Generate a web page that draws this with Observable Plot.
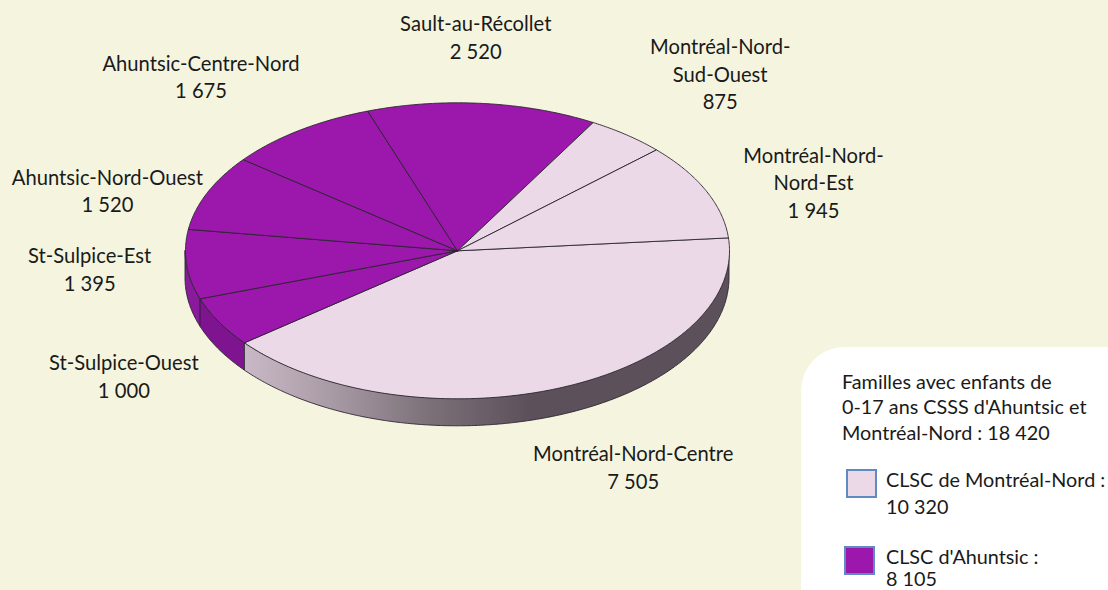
<!DOCTYPE html>
<html lang="fr">
<head>
<meta charset="utf-8">
<script src="https://cdn.jsdelivr.net/npm/d3@7"></script>
<script src="https://cdn.jsdelivr.net/npm/@observablehq/plot@0.6"></script>
<style>
html,body{margin:0;padding:0;background:#f5f5df;overflow:hidden}
#wrap{position:relative;width:1108px;height:590px;overflow:hidden;font-family:Lato,sans-serif;color:#1a1a1a}
#wrap svg{display:block;position:absolute;left:0;top:0;background:#f5f5df}
#box{position:absolute;left:801px;top:347px;width:360px;height:300px;background:#fff;border-radius:44px}
.l{position:absolute;font-size:19.8px;line-height:18px;white-space:nowrap}
.s{position:absolute;box-sizing:border-box;width:31px;height:29px;border:2px solid #5f8ac4}
</style>
</head>
<body>
<div id="wrap"></div>
<script>
const sliceNames = ["Montréal-Nord-Centre","St-Sulpice-Ouest","St-Sulpice-Est","Ahuntsic-Nord-Ouest","Ahuntsic-Centre-Nord","Sault-au-Récollet","Montréal-Nord-Sud-Ouest","Montréal-Nord-Nord-Est"];
const sliceValues = [7505,1000,1395,1520,1675,2520,875,1945];
const sliceGroups = ["MN","A","A","A","A","A","MN","MN"];
const labelLines = [["Montréal-Nord-Centre"],["St-Sulpice-Ouest"],["St-Sulpice-Est"],["Ahuntsic-Nord-Ouest"],["Ahuntsic-Centre-Nord"],["Sault-au-Récollet"],["Montréal-Nord-","Sud-Ouest"],["Montréal-Nord-","Nord-Est"]];
const valueLabels = ["7 505","1 000","1 395","1 520","1 675","2 520","875","1 945"];
const labelOffsets = [[75,78],[-95,53],[-97,4],[-100,-3],[-98,-55],[-7,-67],[93.5,-62],[107.5,-9]];
const legendTitle = ["Familles avec enfants de","0-17 ans CSSS d'Ahuntsic et","Montréal-Nord : 18 420"];
const legendItems = [{lines:["CLSC de Montréal-Nord :","10 320"],color:"#ebd9e8"},{lines:["CLSC d'Ahuntsic :","8 105"],color:"#9c18ac"}];

const topColor = {MN:"#ebd9e8",A:"#9c18ac"};
const cx=457, cy=250.3, rx=272, ry=148, depth=27.5, startDeg=-5;
const total = d3.sum(sliceValues);
const px = a => cx + rx*Math.cos(a*Math.PI/180);
const py = a => cy + ry*Math.sin(a*Math.PI/180);

let acc = startDeg;
const slices = sliceValues.map((v,i)=>{
  const a0 = acc, a1 = acc + v/total*360; acc = a1;
  return {i, name:sliceNames[i], group:sliceGroups[i], a0, a1, mid:(a0+a1)/2};
});
const arc = (a0,a1) => d3.range(0,Math.ceil((a1-a0)/0.5)+1).map(k=>Math.min(a0+k*0.5,a1));

const topPts = slices.flatMap(s=>[
  {i:s.i,x:cx,y:cy},
  ...arc(s.a0,s.a1).map(a=>({i:s.i,x:px(a),y:py(a)})),
  {i:s.i,x:cx,y:cy}
]);
const wall = (a0,a1) => arc(Math.max(a0,0),Math.min(a1,180)).map(a=>({x:px(a),y1:py(a),y2:py(a)+depth}));

const defs = () => {
  const ns="http://www.w3.org/2000/svg";
  const d=document.createElementNS(ns,"defs");
  d.innerHTML='<linearGradient id="sideLight" x1="0" x2="1" y1="0" y2="0"><stop offset="0" stop-color="#c9b9c6"/><stop offset="0.18" stop-color="#a99ba6"/><stop offset="0.38" stop-color="#7c7079"/><stop offset="0.59" stop-color="#5c515b"/><stop offset="1" stop-color="#5c515b"/></linearGradient>';
  return d;
};

const wallStyle = {x1:"x",y1:"y1",y2:"y2",stroke:"#2b2430",strokeWidth:0.9};
const labelMarks = slices.flatMap((s,i)=>{
  const text=[...labelLines[i],valueLabels[i]].join("\n");
  return [Plot.text([s],{x:d=>px(d.mid),y:d=>py(d.mid),text:()=>text,dx:labelOffsets[i][0],dy:labelOffsets[i][1],
    textAnchor:"middle",lineAnchor:"middle",lineHeight:1.37,fontSize:20.2,fill:"#1a1a1a"})];
});

const chart = Plot.plot({
  width:1108,height:590,margin:0,
  x:{domain:[0,1108],range:[0,1108],axis:null},
  y:{domain:[0,590],range:[0,590],axis:null},
  style:{background:"#f5f5df",fontFamily:"Lato,sans-serif"},
  marks:[
    defs,
    Plot.area(wall(slices[0].a0,slices[0].a1),{...wallStyle,fill:"url(#sideLight)"}),
    Plot.area(wall(slices[1].a0,slices[1].a1),{...wallStyle,fill:"#7e1490"}),
    Plot.area(wall(slices[2].a0,slices[2].a1),{...wallStyle,fill:"#8a1a9c"}),
    ...slices.map(s=>Plot.line(topPts.filter(p=>p.i===s.i),{x:"x",y:"y",fill:topColor[s.group],stroke:"#2b2430",strokeWidth:0.9,curve:"linear"})),
    ...labelMarks
  ]
});
const wrap=document.getElementById("wrap");
wrap.appendChild(chart);

const box=document.createElement("div");box.id="box";wrap.appendChild(box);
const addLine=(t,x,yc)=>{const e=document.createElement("div");e.className="l";e.textContent=t;e.style.left=x+"px";e.style.top=(yc-9)+"px";wrap.appendChild(e);};
legendTitle.forEach((t,i)=>addLine(t,842,380.5+i*25.7));
[[846,469,479,26.5],[844,546,555.5,22.5]].forEach(([sx,sy,ty,gap],k)=>{
  const it=legendItems[k];
  const sw=document.createElement("div");sw.className="s";sw.style.left=sx+"px";sw.style.top=sy+"px";sw.style.background=it.color;wrap.appendChild(sw);
  it.lines.forEach((t,i)=>addLine(t,886,ty+i*gap));
});
</script>
</body>
</html>
